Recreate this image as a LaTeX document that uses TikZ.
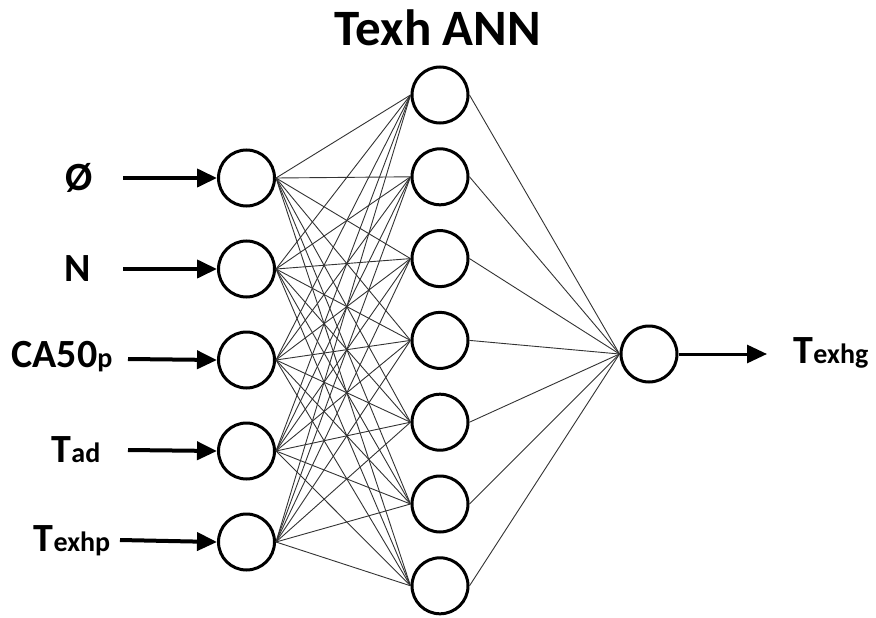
\documentclass[tikz,border=0pt]{standalone}
\usepackage{fontspec}
\setmainfont{Carlito}
\usetikzlibrary{arrows.meta}
\newcommand{\lowpart}[1]{{\fontsize{28}{28}\selectfont #1}}
\tikzset{%
  >={Triangle[width=18pt,length=20pt]},
  % Specifications for style of nodes:
         neuron/.style = {circle, draw=black, line width=3pt,
                          minimum size=56pt, inner sep=0pt, fill=white},
         varlab/.style = {font=\fontsize{40}{40}\selectfont\bfseries, inner sep=0pt},
           wire/.style = {draw=black!80, line width=0.9pt},
        feedarr/.style = {->, line width=4pt}
}
\begin{document}
\begin{tikzpicture}[x=1pt, y=1pt, node distance=91pt]
  \useasboundingbox (0,0) rectangle (876,-618);

  % Title
  \node (title) [font=\fontsize{51}{51}\selectfont\bfseries] at (438,-28) {Texh ANN};

  % Input layer
  \node (in1) [neuron] at (246.5,-178) {};
  \node (in2) [neuron, below of=in1] {};
  \node (in3) [neuron, below of=in2] {};
  \node (in4) [neuron, below of=in3] {};
  \node (in5) [neuron, below of=in4] {};

  % Hidden layer
  \node (hid1) [neuron] at (440,-95) {};
  \node (hid2) [neuron, node distance=81.8pt, below of=hid1] {};
  \node (hid3) [neuron, node distance=81.8pt, below of=hid2] {};
  \node (hid4) [neuron, node distance=81.8pt, below of=hid3] {};
  \node (hid5) [neuron, node distance=81.8pt, below of=hid4] {};
  \node (hid6) [neuron, node distance=81.8pt, below of=hid5] {};
  \node (hid7) [neuron, node distance=81.8pt, below of=hid6] {};

  % Output layer
  \node (out) [neuron] at (649,-354) {};

  % Input labels and arrow tails
  \node (phi)  [varlab] at (79,-178)  {Ø};
  \node (rpm)  [varlab] at (78,-269)  {N};
  \node (ca)   [varlab] at (62,-357)  {CA50\lowpart{p}};
  \node (tad)  [varlab] at (76,-450)  {T\lowpart{ad}};
  \node (texp) [varlab] at (72,-541)  {T\lowpart{exhp}};
  \node (texg) [varlab] at (831,-353) {T\lowpart{exhg}};

  \coordinate (t1) at (123,-178);
  \coordinate (t2) at (123,-269);
  \coordinate (t3) at (128,-359);
  \coordinate (t4) at (128,-450);
  \coordinate (t5) at (120,-540);
  \coordinate (tend) at (767,-354);

  % Connections between layers
  \foreach \i in {1,...,5}
    \foreach \j in {1,...,7}
      \draw[wire] (in\i.east) -- (hid\j.west);
  \foreach \j in {1,...,7}
    \draw[wire] (hid\j.east) -- (out.west);

  % Input and output arrows
  \foreach \i in {1,...,5}
    \draw[feedarr] (t\i) -- (in\i.west);
  \draw[feedarr, line width=3pt] (out.east) -- (tend);
\end{tikzpicture}
\end{document}
